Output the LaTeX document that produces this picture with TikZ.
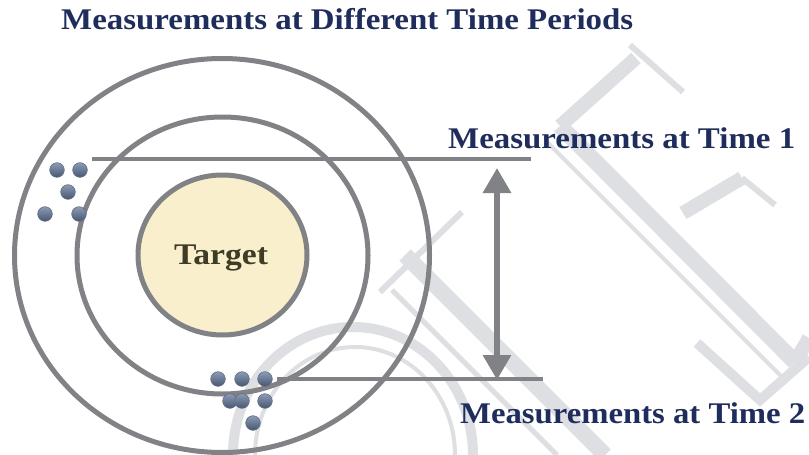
\documentclass[tikz,border=0pt]{standalone}
\usepackage{fontspec}
\setmainfont{Liberation Serif}
\usetikzlibrary{arrows.meta,shapes.geometric}

\definecolor{ringgray}{RGB}{128,130,134}
\definecolor{navy}{RGB}{31,45,92}
\definecolor{targetfill}{RGB}{249,239,204}
\definecolor{targettext}{RGB}{62,60,38}
\definecolor{wmgray}{RGB}{222,223,226}
\definecolor{dottop}{RGB}{140,156,182}
\definecolor{dotbot}{RGB}{72,86,112}
\definecolor{dotrim}{RGB}{96,108,132}

% stretch a text horizontally to a given width, keeping its height
\newcommand{\fitw}[2]{\resizebox{#1}{\height}{#2}}

\begin{document}
\begin{tikzpicture}[x=1pt,y=-1pt,
    ring/.style={ellipse, draw=ringgray, line width=5pt, inner sep=0pt},
    guide/.style={draw=ringgray, line width=3.5pt},
    span/.style={draw=ringgray, line width=6pt,
      {Triangle[width=27pt,length=25pt]}-{Triangle[width=27pt,length=25pt]}},
    dot/.style={circle, draw=dotrim, line width=0.6pt, top color=dottop,
      bottom color=dotbot, minimum size=14.6pt, inner sep=0pt},
    heading/.style={text=navy, font=\bfseries\fontsize{30}{36}\selectfont, inner sep=0pt},
    wm/.style={draw=wmgray, line cap=butt, line join=miter}]

\useasboundingbox (0,0) rectangle (809,455);
\fill[white] (0,0) rectangle (809,455);

% faint background lettering
\draw[wm, line width=6pt] (630,45) -- (683,92);
\draw[wm, line width=14pt] (636,58) -- (560,126);
\draw[wm, line width=16pt] (560,126) -- (795,362);
\draw[wm, line width=4pt] (545,140) -- (785,380);
\draw[wm, line width=14pt] (683,213) -- (742,178);
\draw[wm, line width=6pt] (742,178) -- (775,205);
\draw[wm, line width=14pt] (795,362) -- (809,338);
\draw[wm, line width=10pt] (697,343) -- (760,400) -- (809,357);
\draw[wm, line width=6pt] (380,292) -- (462,212);
\draw[wm, line width=16pt] (405,255) -- (605,455);
\draw[wm, line width=5pt] (392,290) -- (557,455);
\draw[wm, line width=10pt] (233,455) arc[start angle=180, end angle=0, x radius=120, y radius=-128];
\draw[wm, line width=4pt] (255,455) arc[start angle=180, end angle=0, x radius=100, y radius=-108];

% target rings
\node[ring, minimum width=415pt, minimum height=394pt] (outer) at (222,255.5) {};
\node[ring, minimum width=291pt, minimum height=277pt] (middle) at (222.5,255.5) {};
\node[ring, fill=targetfill, minimum width=169pt, minimum height=160pt] (target) at (222.5,255) {};
\node[text=targettext, font=\bfseries\fontsize{30}{36}\selectfont, inner sep=0pt, anchor=base]
  (targetlabel) at (221,264) {\fitw{94pt}{Target}};

% level guides and the spread between them
\coordinate (g1a) at (92,159);
\coordinate (g1b) at (531,159);
\coordinate (g2a) at (277,379);
\coordinate (g2b) at (543,379);
\draw[guide] (g1a) -- (g1b);
\draw[guide] (g2a) -- (g2b);
\coordinate (spantop) at (497,168);
\coordinate (spanbot) at (497,380);
\draw[span] (spantop) -- (spanbot);

% measurements at time 1
\node[dot] (a1) at (57,170) {};
\node[dot] (a2) at (80,170) {};
\node[dot] (a3) at (68,192) {};
\node[dot] (a4) at (45,214) {};
\node[dot] (a5) at (79,214) {};

% measurements at time 2
\node[dot] (b1) at (218,379) {};
\node[dot] (b2) at (242,379) {};
\node[dot] (b3) at (265,379) {};
\node[dot] (b4) at (230,401) {};
\node[dot] (b5) at (242,401) {};
\node[dot] (b6) at (265,401) {};
\node[dot] (b7) at (253,423) {};

% headings
\node[heading, anchor=base west] (title) at (61,30)
  {\fitw{572pt}{Measurements at Different Time Periods}};
\node[heading, anchor=base west] (time1) at (448,148)
  {\fitw{347pt}{Measurements at Time 1}};
\node[heading, anchor=base west] (time2) at (460,423)
  {\fitw{345pt}{Measurements at Time 2}};
\end{tikzpicture}
\end{document}
